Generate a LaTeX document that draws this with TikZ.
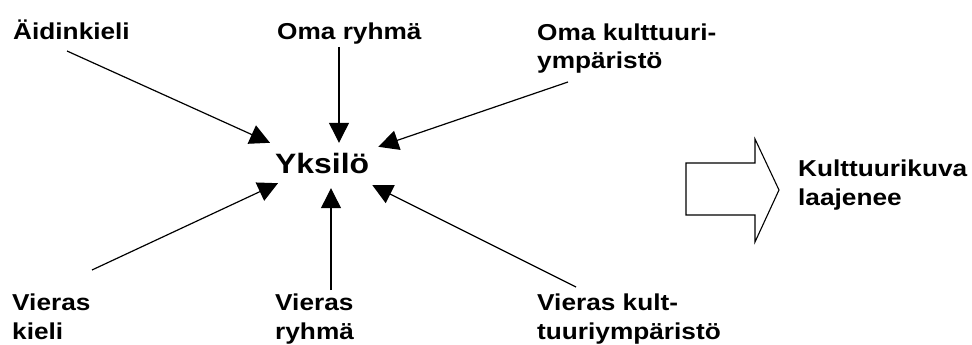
\documentclass[tikz,border=0pt]{standalone}
\usepackage{fontspec}
\newfontfamily\labfont{Liberation Sans}[FakeStretch=1.14]
\usetikzlibrary{arrows.meta}
\begin{document}
\begin{tikzpicture}[x=1pt,y=-1pt,
  lab/.style={inner sep=0pt,anchor=base west,align=left,
    font=\labfont\bfseries\fontsize{23}{28.5}\selectfont},
  arr/.style={line width=1.2pt,-{Triangle[length=20pt,width=20pt]}},
  blockarrow/.style={line width=1.1pt,line join=miter}]
\useasboundingbox (0,0) rectangle (972,345);
% labels (multi-line nodes: base anchor is the last line's baseline)
\node[lab] (aidin) at (13,40) {Äidinkieli};
\node[lab] (omaryh) at (277,40) {Oma ryhmä};
\node[lab] (omakult) at (537,69) {Oma kulttuuri-\\ympäristö};
\node[lab] (vkieli) at (12,339) {Vieras\\kieli};
\node[lab] (vryh) at (275,339) {Vieras\\ryhmä};
\node[lab] (vkult) at (537,339) {Vieras kult-\\tuuriympäristö};
\node[lab] (kuva) at (798,205) {Kulttuurikuva\\laajenee};
% centre
\node[inner xsep=5pt,inner ysep=0pt,anchor=base west,text width=98pt,align=left,
  text height=30pt,text depth=15pt,
  font=\labfont\bfseries\fontsize{28}{34}\selectfont] (yk) at (270,173) {Yksilö};
% tail points
\coordinate (t1) at (67,51);
\coordinate (t2) at (339,47);
\coordinate (t3) at (568,82);
\coordinate (t4) at (92,270);
\coordinate (t5) at (331,290);
\coordinate (t6) at (576,287);
\draw[arr] (t1) -- (yk.north west);
\draw[arr] (t2) -- (t2 |- yk.north);
\draw[arr] (t3) -- ([shift={(0,4)}]yk.north east);
\draw[arr] (t4) -- ([shift={(8,-5)}]yk.south west);
\draw[arr] (t5) -- (t5 |- yk.south);
\draw[arr] (t6) -- ([shift={(-6,-3)}]yk.south east);
% block arrow
\draw[blockarrow] (686,163) -- (755,163) -- (755,139) -- (779,190) -- (755,242)
  -- (755,215) -- (686,215) -- cycle;
\end{tikzpicture}
\end{document}
